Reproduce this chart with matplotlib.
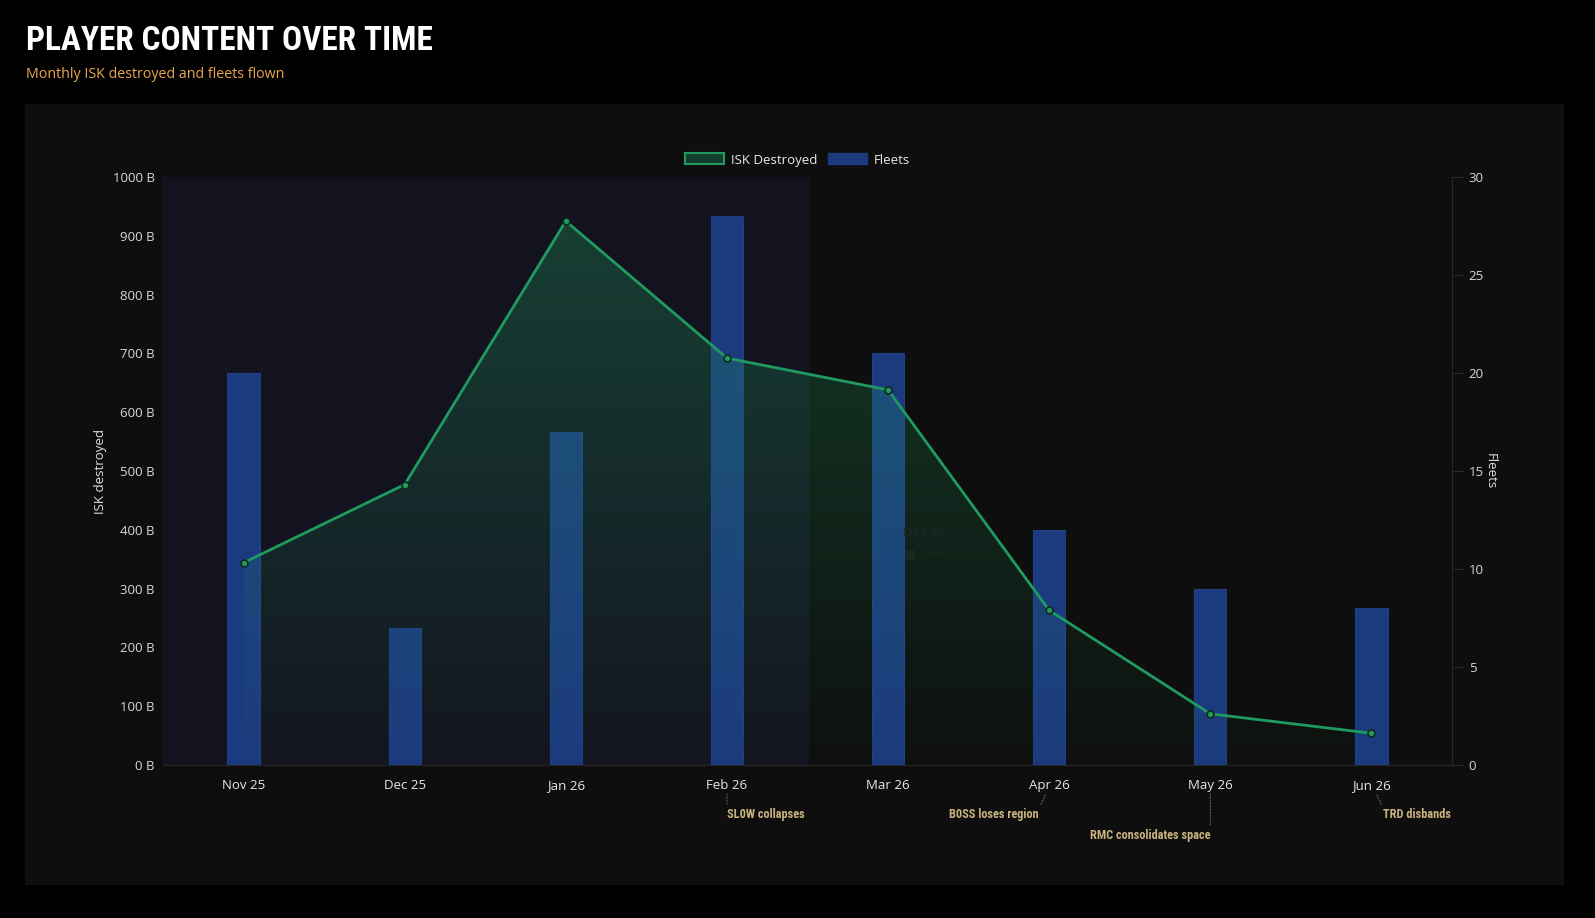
import numpy as np
import matplotlib
matplotlib.use("Agg")
import matplotlib.pyplot as plt
from matplotlib.patches import Rectangle, Patch
from matplotlib.transforms import blended_transform_factory
from matplotlib import font_manager

plt.rcParams['font.family'] = ['Open Sans', 'DejaVu Sans']

# data
months = ['Nov 25', 'Dec 25', 'Jan 26', 'Feb 26', 'Mar 26', 'Apr 26', 'May 26', 'Jun 26']
isk_destroyed = [344, 477, 925, 692, 638, 263, 87, 54]   # billions
fleets = [20, 7, 17, 28, 21, 12, 9, 8]
isk_ticks = [0, 100, 200, 300, 400, 500, 600, 700, 800, 900, 1000]
fleet_ticks = [0, 5, 10, 15, 20, 25, 30]
events = [('Feb 26', 'SL0W collapses'), ('Apr 26', 'B0SS loses region'),
          ('May 26', 'RMC consolidates space'), ('Jun 26', 'TRD disbands')]
shaded_months = 4  # Nov 25 .. Feb 26 highlighted

# pick a narrow face if one is installed
installed = {f.name for f in font_manager.fontManager.ttflist}
narrow = [n for n in ['Roboto Condensed', 'DejaVu Sans Condensed', 'Liberation Sans Narrow',
                      'Open Sans Condensed', 'Roboto'] if n in installed] + ['DejaVu Sans']

W, H = 1595, 918
fig = plt.figure(figsize=(W / 100, H / 100), dpi=100, facecolor='black')

# dark panel
fig.patches.append(Rectangle((25 / W, 1 - 885 / H), (1564 - 25) / W, (885 - 104) / H,
                             transform=fig.transFigure, facecolor='#0e0e0e',
                             edgecolor='none', zorder=-10))

fig.text(26 / W, 1 - 41 / H, 'PLAYER CONTENT OVER TIME', color='white', fontsize=24,
         fontweight='bold', family=narrow, fontstretch='condensed',
         va='center', ha='left')
fig.text(26 / W, 1 - 74 / H, 'Monthly ISK destroyed and fleets flown', color='#e8a84e',
         fontsize=10.3, va='center', ha='left')

left, right, top, bottom = 163, 1452, 177, 765
ax = fig.add_axes([left / W, 1 - bottom / H, (right - left) / W, (bottom - top) / H])
ax.set_facecolor('none')
ax2 = ax.twinx()

x = np.arange(len(months))

# bars (fleets) on main axes, drawn below the ISK layer
ax.axvspan(-0.5, shaded_months - 0.5, color='#13131f', zorder=0)
ax.bar(x, fleets, width=0.2, color='#1c3a7e', edgecolor='#1f3f88', linewidth=0.8, zorder=2)
ax.set_ylim(0, 30)
ax.set_xlim(-0.5, len(months) - 0.5)
ax.set_yticks(fleet_ticks)
ax.yaxis.tick_right()
ax.yaxis.set_label_position('right')
ax.set_ylabel('Fleets', color='#e0e0e0', fontsize=9.5, rotation=270, va='bottom', labelpad=0)
ax.tick_params(axis='y', colors='#2a2a2a', labelcolor='#d8d8d8', labelsize=9.5,
               length=8, width=0.8, pad=4)
ax.set_xticks(x)
ax.set_xticklabels(months)
ax.tick_params(axis='x', length=0, labelcolor='#e8e8e8', labelsize=9.5, pad=10)
for s in ['top', 'left']:
    ax.spines[s].set_visible(False)
ax.spines['right'].set_color('#262626')
ax.spines['bottom'].set_color('#262626')

# ISK line with gradient fill
ax2.set_ylim(0, 1000)
poly = ax2.fill_between(x, isk_destroyed, 0, color='none', zorder=1)
grad = np.linspace(0.02, 0.32, 256).reshape(-1, 1)
img = np.zeros((256, 1, 4))
img[..., 0] = 0.12
img[..., 1] = 0.62
img[..., 2] = 0.38
img[..., 3] = grad
im = ax2.imshow(img, origin='lower', aspect='auto', extent=[x[0], x[-1], 0, max(isk_destroyed)],
                zorder=1, interpolation='bilinear')
im.set_clip_path(poly.get_paths()[0], transform=ax2.transData)
ax2.plot(x, isk_destroyed, color='#1f9a60', lw=2, zorder=3, marker='o', markersize=5,
         markerfacecolor='#1f9a60', markeredgecolor='#0f2a1c', markeredgewidth=1.2)
ax2.set_xlim(-0.5, len(months) - 0.5)
ax2.set_yticks(isk_ticks)
ax2.set_yticklabels([f'{v} B' for v in isk_ticks])
ax2.yaxis.tick_left()
ax2.yaxis.set_label_position('left')
ax2.set_ylabel('ISK destroyed', color='#e0e0e0', fontsize=9.5, labelpad=4)
ax2.tick_params(axis='y', length=0, labelcolor='#d8d8d8', labelsize=9.5, pad=6)
for s in ax2.spines.values():
    s.set_visible(False)

# faint leftover tooltip
ax2.text(4.09, 390, 'Dec 25', color='#1b2721', fontsize=9.5, fontweight='bold', zorder=4)
ax2.text(4.1, 354, '\u25A0 Fleets: 7', color='#1b2721', fontsize=9.5, zorder=4)

# event annotations below the axis
trans = blended_transform_factory(ax.transData, ax.transAxes)
offsets = {'SL0W collapses': (0.0, (0, -15), 'left', (0, 1)),
           'B0SS loses region': (-0.02, (-5, -15), 'right', (1, 1)),
           'RMC consolidates space': (0.0, (0, -30), 'right', (1, 1)),
           'TRD disbands': (0.03, (5, -15), 'left', (0, 1))}
for month, label in events:
    dx, off, ha, rel = offsets[label]
    ax.annotate(label, xy=(months.index(month) + dx, -0.049), xycoords=trans,
                xytext=off, textcoords='offset points', ha=ha, va='center',
                color='#c8b27e', fontsize=8.8, fontweight='bold', family=narrow,
                fontstretch='condensed', annotation_clip=False,
                arrowprops=dict(arrowstyle='-', color='#6b6450', lw=0.8, ls=':',
                                relpos=rel, shrinkA=1, shrinkB=0))

# legend
handles = [Patch(facecolor='#173d2c', edgecolor='#1f9a60', linewidth=1.5, label='ISK Destroyed'),
           Patch(facecolor='#1c3a7e', edgecolor='#1c3a7e', label='Fleets')]
leg = fig.legend(handles=handles, loc='center', bbox_to_anchor=(0.5, 1 - 160 / H), ncol=2,
                 frameon=False, fontsize=9.5, handlelength=3.0, handleheight=0.9,
                 columnspacing=0.8, handletextpad=0.5, labelcolor='#e8e8e8')

fig.savefig('out.png', dpi=100, facecolor='black')
